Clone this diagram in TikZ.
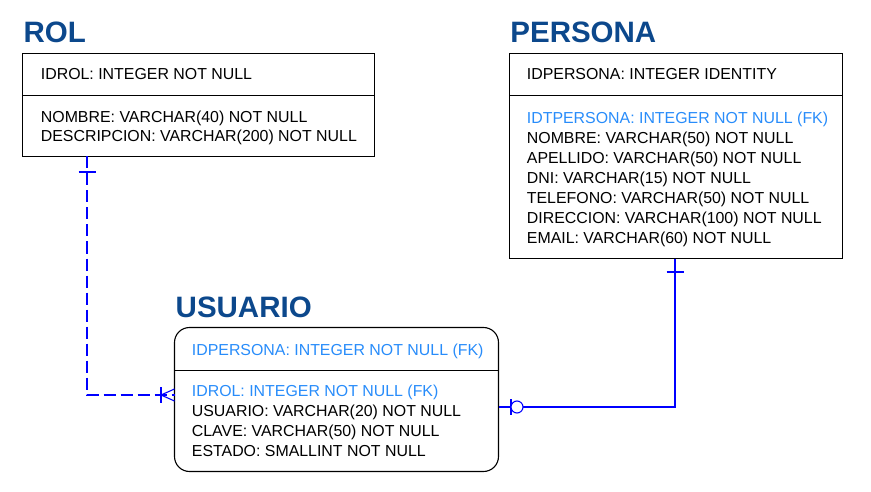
\documentclass[tikz,border=0pt]{standalone}
\usepackage{fontspec}
\setmainfont{Liberation Sans}
\definecolor{ttl}{RGB}{12,72,140}
\definecolor{fk}{RGB}{40,140,250}
\definecolor{rel}{RGB}{0,0,255}
\begin{document}
\begin{tikzpicture}[x=1pt,y=-1pt,
  tbl/.style={draw=black,line width=1.1pt,anchor=north west,inner sep=0pt,outer sep=0pt},
  divider/.style={draw=black,line width=1.1pt},
  ttlnode/.style={anchor=base west,inner sep=0pt,text=ttl,font=\fontsize{29.5}{32}\selectfont\bfseries},
  row/.style={anchor=base west,inner sep=0pt,font=\fontsize{15.9}{18}\selectfont},
  fkrow/.style={row,text=fk},
  relline/.style={draw=rel,line width=1.1pt},
  reldash/.style={relline,dash pattern=on 12pt off 5pt}]
\useasboundingbox (0,0) rectangle (871,492);
% ROL
\node[ttlnode] (rolt) at (23.5,42.7) {ROL};
\node[tbl,minimum width=352pt,minimum height=103pt] (rol) at (22.5,53.5) {};
\draw[divider] (rol.west |- 0,95.5) coordinate (rold1) -- (rol.east |- rold1);
\node[row] (rol1) at (40.7,79.3) {IDROL: INTEGER NOT NULL};
\node[row] (rol2) at (40.7,122.7) {NOMBRE: VARCHAR(40) NOT NULL};
\node[row] (rol3) at (40.7,141.7) {DESCRIPCION: VARCHAR(200) NOT NULL};
% PERSONA
\node[ttlnode] (pert) at (510.2,42.7) {PERSONA};
\node[tbl,minimum width=333pt,minimum height=205pt] (per) at (509.5,53.5) {};
\draw[divider] (per.west |- 0,95.5) coordinate (perd1) -- (per.east |- perd1);
\node[row] (per1) at (526.7,80) {IDPERSONA: INTEGER IDENTITY};
\node[fkrow] (per2) at (526.7,123.3) {IDTPERSONA: INTEGER NOT NULL (FK)};
\node[row] (per3) at (526.7,143.3) {NOMBRE: VARCHAR(50) NOT NULL};
\node[row] (per4) at (526.7,163.3) {APELLIDO: VARCHAR(50) NOT NULL};
\node[row] (per5) at (526.7,183.3) {DNI: VARCHAR(15) NOT NULL};
\node[row] (per6) at (526.7,203.3) {TELEFONO: VARCHAR(50) NOT NULL};
\node[row] (per7) at (526.7,223.3) {DIRECCION: VARCHAR(100) NOT NULL};
\node[row] (per8) at (526.7,243.3) {EMAIL: VARCHAR(60) NOT NULL};
% USUARIO
\node[ttlnode] (usut) at (175.5,317.7) {USUARIO};
\node[tbl,rounded corners=15pt,minimum width=324pt,minimum height=144pt] (usu) at (174.5,327.5) {};
\draw[divider] (usu.west |- 0,370.5) coordinate (usud1) -- (usu.east |- usud1);
\node[fkrow] (usu1) at (191.7,355) {IDPERSONA: INTEGER NOT NULL (FK)};
\node[fkrow] (usu2) at (191.7,396.7) {IDROL: INTEGER NOT NULL (FK)};
\node[row] (usu3) at (191.7,416.7) {USUARIO: VARCHAR(20) NOT NULL};
\node[row] (usu4) at (191.7,436.7) {CLAVE: VARCHAR(50) NOT NULL};
\node[row] (usu5) at (191.7,456.7) {ESTADO: SMALLINT NOT NULL};
% ROL -- USUARIO
\coordinate (k1) at (87,395);
\draw[reldash] (rol.south -| k1) |- (usu.west |- k1);
\draw[relline] (78.5,172) -- (95.5,172);
\draw[relline] (161,387) -- (161,403);
\draw[relline] (usu.west |- 0,389) -- (161,395) -- (usu.west |- 0,401);
% PERSONA -- USUARIO
\coordinate (k2) at (675,407);
\draw[relline] (per.south -| k2) |- (usu.east |- k2);
\draw[relline] (666.5,272) -- (683.5,272);
\draw[relline] (511,399) -- (511,415);
\draw[relline,fill=white] (517,407) circle (6pt);
\end{tikzpicture}
\end{document}
